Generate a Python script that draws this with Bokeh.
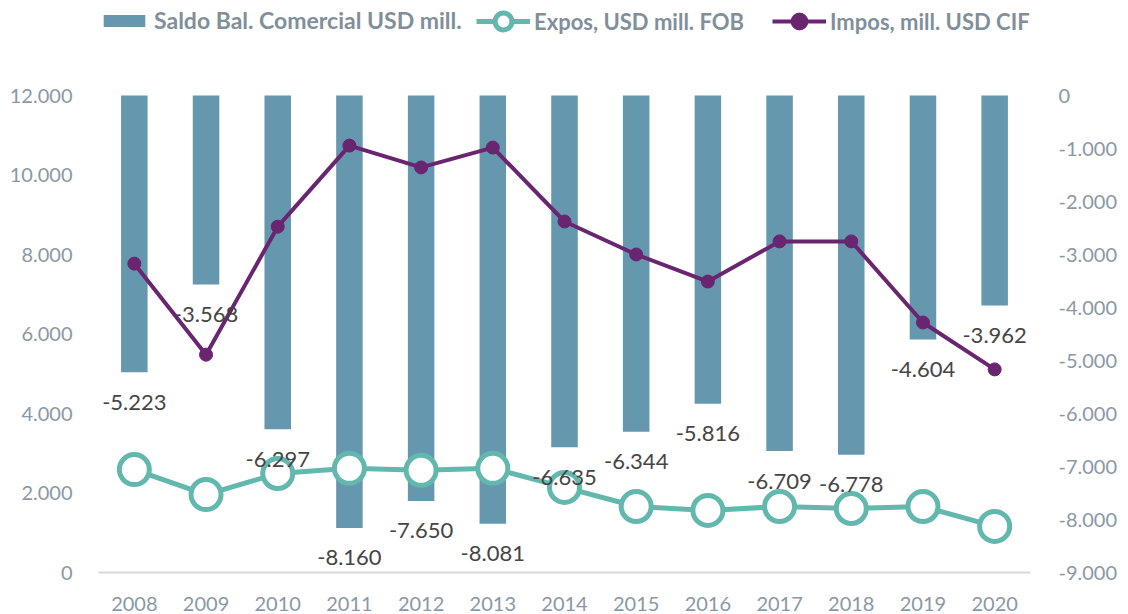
from bokeh.plotting import figure
from bokeh.models import (Range1d, LinearAxis, FixedTicker, CustomJSTickFormatter,
                          Legend, LegendItem, ColumnDataSource, FactorRange)
from bokeh.embed import file_html
from bokeh.resources import INLINE
from bokeh.core.properties import value

years = [str(y) for y in range(2008, 2021)]
saldo = [-5223, -3568, -6297, -8160, -7650, -8081, -6635, -6344, -5816, -6709, -6778, -4604, -3962]
expos = [2590, 1960, 2490, 2620, 2570, 2620, 2140, 1660, 1560, 1660, 1610, 1660, 1160]
impos = [7770, 5480, 8700, 10740, 10190, 10690, 8830, 8000, 7320, 8330, 8330, 6290, 5110]
left_ticks = [0, 2000, 4000, 6000, 8000, 10000, 12000]
right_ticks = [-9000, -8000, -7000, -6000, -5000, -4000, -3000, -2000, -1000, 0]
series_names = ["Saldo Bal. Comercial USD mill.", "Expos, USD mill. FOB", "Impos, mill. USD CIF"]

saldo_labels = [f"{v:,}".replace(",", ".") for v in saldo]

FONT = "Lato"
BAR = "#6598ae"
TEAL = "#63b8ad"
PURPLE = "#6a2570"
TICK = "#8a98a5"
LEG = "#7f8f9b"

# layout (pixels): frame spans canvas top to the x-axis; the value area starts 95 px down
W, H = 1128, 614
BORDER_LR, BORDER_B = 98, 42
FRAME_H = H - BORDER_B
PLOT_TOP = 95
VAL_H = FRAME_H - PLOT_TOP
L_MIN, L_MAX = 0, 12000
R_MIN, R_MAX = -9000, 0
l_end = L_MIN + (L_MAX - L_MIN) * FRAME_H / VAL_H
r_end = R_MIN + (R_MAX - R_MIN) * FRAME_H / VAL_H

src = ColumnDataSource(dict(year=years, saldo=saldo, expos=expos, impos=impos,
                            zero=[0] * len(years), lab=saldo_labels))

p = figure(width=W, height=H, x_range=FactorRange(*years, range_padding=0),
           y_range=Range1d(L_MIN, l_end), output_backend="svg", toolbar_location=None,
           min_border_left=BORDER_LR, min_border_right=BORDER_LR, min_border_top=0,
           min_border_bottom=BORDER_B)
p.extra_y_ranges = {"bal": Range1d(R_MIN, r_end)}
p.outline_line_color = None
p.grid.visible = False
p.background_fill_color = "white"
p.border_fill_color = "white"

fmt = CustomJSTickFormatter(code="""
const s = Math.abs(tick).toFixed(0).replace(/\\B(?=(\\d{3})+(?!\\d))/g, '.');
return (tick < 0 ? '-' : '') + s;
""")

# left axis
ya = p.yaxis[0]
ya.ticker = FixedTicker(ticks=left_ticks)
ya.formatter = fmt
ya.axis_line_color = None
ya.major_tick_line_color = None
ya.minor_tick_line_color = None
ya.major_label_text_font = FONT
ya.major_label_text_font_size = "20px"
ya.major_label_text_color = TICK
ya.major_label_standoff = 20

# right axis
ra = LinearAxis(y_range_name="bal", ticker=FixedTicker(ticks=right_ticks), formatter=fmt)
ra.axis_line_color = None
ra.major_tick_line_color = None
ra.minor_tick_line_color = None
ra.major_label_text_font = FONT
ra.major_label_text_font_size = "20px"
ra.major_label_text_color = TICK
ra.major_label_standoff = 22
p.add_layout(ra, "right")

# x axis
xa = p.xaxis[0]
xa.axis_line_color = "#d9d9d9"
xa.axis_line_width = 2
xa.major_tick_line_color = None
xa.minor_tick_line_color = None
xa.major_label_text_font = FONT
xa.major_label_text_font_size = "20px"
xa.major_label_text_color = TICK
xa.major_label_standoff = 18

bars = p.vbar(x="year", top="zero", bottom="saldo", width=0.37, source=src,
              y_range_name="bal", fill_color=BAR, line_color=None)
el = p.line(x="year", y="expos", source=src, line_color=TEAL, line_width=5)
es = p.scatter(x="year", y="expos", source=src, size=30, fill_color="white",
               line_color=TEAL, line_width=5)
il = p.line(x="year", y="impos", source=src, line_color=PURPLE, line_width=4)
isc = p.scatter(x="year", y="impos", source=src, size=13, fill_color=PURPLE,
                line_color=PURPLE)
p.text(x="year", y="saldo", text="lab", source=src, y_range_name="bal",
       text_font=value(FONT), text_font_size="22px", text_color="#454545",
       text_align="center", text_baseline="middle", y_offset=30)


def style(lg, gw, gh, fs, sp):
    lg.label_text_font = FONT
    lg.label_text_font_size = fs
    lg.label_text_font_style = "bold"
    lg.label_text_color = LEG
    lg.glyph_width = gw
    lg.glyph_height = gh
    lg.label_standoff = 4
    lg.spacing = sp
    lg.padding = 0
    lg.margin = 0
    lg.border_line_color = None
    lg.background_fill_alpha = 0
    lg.orientation = "horizontal"


leg1 = Legend(items=[LegendItem(label=series_names[0], renderers=[bars])],
              location=(0, FRAME_H - 34))
style(leg1, 52, 15, "23px", 20)
leg2 = Legend(items=[LegendItem(label=series_names[1], renderers=[el, es]),
                     LegendItem(label=series_names[2], renderers=[il, isc])],
              location=(378, FRAME_H - 42))
style(leg2, 54, 42, "22px", 28)
p.add_layout(leg1)
p.add_layout(leg2)

open("out.html", "w").write(file_html(p, INLINE))
